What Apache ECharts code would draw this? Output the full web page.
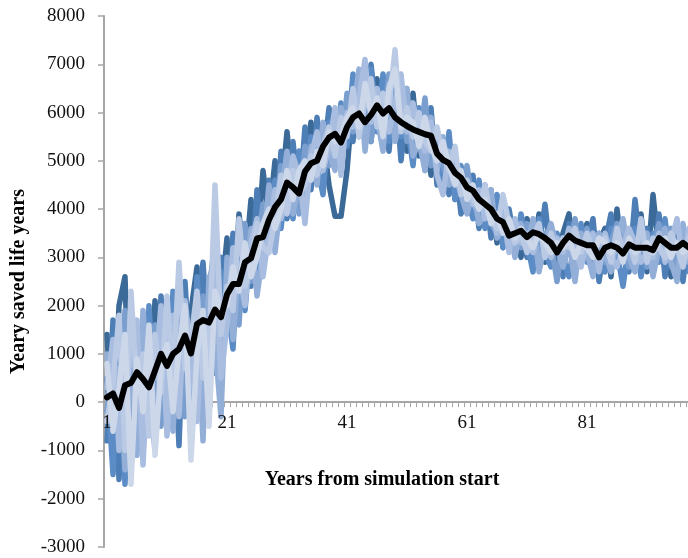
<!DOCTYPE html>
<html>
<head>
<meta charset="utf-8">
<script src="https://cdn.jsdelivr.net/npm/echarts@6/dist/echarts.min.js"></script>
<style>
  html, body { margin: 0; padding: 0; background: #fff; }
  #chart { width: 688px; height: 558px; }
</style>
</head>
<body>
<div id="chart"></div>
<script>
// Years 1..100 of the simulation
const years = [];
for (let y = 1; y <= 100; y++) years.push(String(y));

// Value axis range and step
const yMin = -3000;
const yMax = 8000;
const yStep = 1000;

// Individual simulation runs (yearly saved life years)
const run1 = [1400,-900,2000,2600,-1300,800,1500,-400,2100,300,
  1800,-500,2400,600,1900,2800,400,2300,3300,2100,
  3400,1700,3900,2800,4200,3100,4800,3800,5000,4300,
  5600,4400,5200,4900,5800,4700,5500,4500,3850,3850,
  4800,6300,5900,6900,5400,6700,5800,6500,5600,6200,
  5200,6400,5100,5800,4700,5600,4600,5300,4200,4700,
  4600,3900,4300,3700,4400,3300,3900,3200,3700,3000,
  3800,3100,3900,2900,3600,2800,3500,3900,2800,3400,
  3700,2700,3300,3600,2600,4000,2900,3500,3000,3900,
  2700,4300,3100,3500,2600,3700,3000,3300,2900,3600];
const run2 = [-800,1700,-1600,900,2000,-1000,1300,600,-700,2200,
  200,1600,-900,2500,300,1700,2900,1000,1400,3000,
  1500,3500,2200,3200,2400,4400,3000,4600,3500,5200,
  3800,5400,4100,5700,4400,5900,5000,6100,5300,5700,
  6100,5400,6600,5600,7000,5900,6300,5200,6600,5000,
  6200,5000,5900,4800,6100,4500,5200,4300,5000,3900,
  4300,4700,3600,4500,3400,4200,3200,4000,3300,3800,
  3000,3600,3200,4100,3000,3400,2600,3700,3200,2900,
  3300,3800,2500,3300,3900,2900,3400,2700,4200,3100,
  3600,2800,3900,2600,3400,3700,2500,3500,3800,3000];
const run3 = [500,-1500,1200,-1700,1600,300,-900,2000,-200,1200,
  -400,2300,400,1100,-700,2600,900,1800,600,2700,
  2000,1100,3600,1900,3400,2700,3900,3200,4600,3600,
  4700,3800,5200,4300,5500,4900,4300,5800,5000,6200,
  5300,6800,5500,6300,6900,5600,6800,5400,6400,5500,
  5800,4900,6100,5000,5400,5600,4400,5600,4200,4900,
  4200,3800,4600,3600,3900,4300,3200,3600,3100,3900,
  3300,2700,3800,3100,2800,3500,3000,2600,3400,3700,
  2900,3400,3000,2700,3600,3100,2400,3300,3600,2600,
  3300,3500,2900,3800,2800,3300,3600,2700,3400,2900];
const run4 = [-200,900,-400,1900,-1200,1500,-300,1000,1600,-500,
  1300,200,1900,-300,1500,700,2200,300,2500,1200,
  2600,2900,1600,3700,2500,3200,4100,3300,3800,4900,
  4100,5000,3900,5300,4600,5300,5700,4900,5900,5100,
  6400,5600,6200,5800,5400,6400,5700,6800,5500,6300,
  5400,6000,5300,6300,4900,5200,4900,4600,5100,4300,
  4900,4100,3900,4300,3700,3500,4100,3300,3500,3200,
  3700,3300,3000,3500,3300,2500,3400,3100,3800,2900,
  3600,3000,3500,2900,3300,3700,3200,2800,3000,3500,
  2800,3200,3700,3100,3600,2700,3400,3100,2600,3500];
const run5 = [1000,-300,700,-1400,1200,-1100,1900,200,-1000,1500,
  900,-600,1600,1200,-200,1900,-800,2600,1200,-300,
  3000,1300,2900,2300,3600,2200,3100,4500,3100,4200,
  5200,3900,4600,4000,5300,4500,5800,5200,4800,6100,
  5600,6000,6900,5200,6300,5900,5200,6600,5400,6000,
  6500,5100,5400,4800,5900,4800,5500,4500,4700,4300,
  3900,4400,3700,3900,4400,3400,3600,3600,3000,3700,
  3200,3800,2700,3300,3700,3200,2800,3300,2500,3500,
  3100,2600,3500,3100,2700,3400,3800,3000,2700,3300,
  3500,2600,3200,3600,2900,2500,3700,2900,3300,3700];
const run6 = [300,1300,-1000,600,800,1700,-1300,1200,500,2000,
  -700,1800,-300,2100,1000,-400,1700,1300,3000,500,
  1600,3200,2700,2000,3300,3800,2600,3500,4400,3800,
  4300,5100,4700,3700,5100,5600,4800,5300,6100,4700,
  6000,5700,6300,7100,5800,6500,6000,5600,6200,6800,
  5600,6200,5600,5200,5800,4700,4300,5200,4600,4500,
  4400,4100,4400,3800,4000,3500,3900,3100,3800,3300,
  3500,3100,3600,3200,3000,3400,3100,3600,3200,2800,
  3300,3500,2700,3500,3000,2800,3200,3600,3300,2900,
  3100,3000,3500,2900,3300,3800,2900,3600,3100,2800];
const run7 = [-400,400,1800,-1000,2300,200,1000,-700,1400,200,
  2200,400,2900,700,1300,2300,500,1000,4500,1400,
  2400,1900,3800,2400,2900,3700,3200,3100,3800,4700,
  3900,4800,4300,4500,5100,4700,5300,5700,5100,5900,
  5500,6500,5500,6200,6700,5700,6400,6100,7300,5600,
  6100,5500,6000,5400,5200,5700,5100,4800,5300,4300,
  4600,4200,4000,4500,3800,3600,4300,3700,3300,3500,
  3100,3400,3700,3000,3500,3100,3400,3200,3600,3100,
  3500,3100,3300,3400,2900,3600,3100,3300,2900,3800,
  2900,3400,3200,3000,3500,3200,2800,3400,3700,3100];
const run8 = [800,-600,300,1400,-1700,900,-200,1600,-1100,700,
  1200,-200,1100,2000,-1200,1000,1900,-500,2300,1900,
  2000,2800,2300,3300,2600,3000,3700,4000,3600,4000,
  4800,4200,4800,5000,4600,5200,4900,5600,5400,5500,
  5900,6100,5700,6600,6000,6300,5500,6500,6900,5700,
  5900,5800,5300,5900,5300,5000,5400,4900,4500,4800,
  4200,4500,4000,4200,3700,3900,3500,3800,3400,3600,
  3400,3200,3500,3300,3100,3300,3200,3400,3000,3300,
  3200,3000,3400,3300,3100,3300,2900,3400,3100,3200,
  3300,3100,3300,3400,3000,3300,3100,3200,3400,3000];

// Average over all runs
const meanRun = [100,180,-120,350,400,620,480,310,650,1000,
  750,1000,1100,1380,1010,1620,1700,1650,1920,1760,
  2230,2450,2450,2900,2980,3390,3420,3780,4040,4200,
  4550,4450,4320,4780,4950,5000,5300,5480,5560,5380,
  5700,5900,5980,5800,5950,6150,5980,6090,5900,5800,
  5720,5650,5600,5550,5520,5150,5020,4950,4750,4650,
  4450,4380,4200,4100,4000,3800,3730,3450,3500,3550,
  3420,3520,3480,3400,3300,3100,3300,3450,3350,3300,
  3250,3250,3000,3200,3250,3200,3080,3270,3200,3200,
  3200,3150,3400,3300,3200,3200,3300,3200,3250,3200];

const runs = [run1, run2, run3, run4, run5, run6, run7, run8];
const runColors = ['#3C6A98', '#4E7EB6', '#5B8CC5', '#7A9ECE', '#93AFD8', '#A8BDDF', '#BACAE5', '#CDD7EA'];

const serifFont = '"Liberation Serif", "DejaVu Serif", serif';

// Plot area
const W = 688, H = 558;
const gridTop = 16, gridBottom = 11;
const plotH = H - gridTop - gridBottom;
// Lift the category axis up to the zero line of the value axis
const zeroLift = (0 - yMin) / (yMax - yMin) * plotH;

const series = runs.map((r, i) => ({
  type: 'line',
  name: 'Run ' + (i + 1),
  data: r,
  xAxisIndex: 0,
  symbol: 'none',
  lineStyle: { color: runColors[i], width: 5.5, cap: 'round', join: 'round' },
  z: 2
}));
series.push({
  type: 'line',
  name: 'Mean',
  data: meanRun,
  xAxisIndex: 0,
  symbol: 'none',
  lineStyle: { color: '#000000', width: 6, cap: 'round', join: 'round' },
  z: 3
});

const xLabelStyle = { interval: 19, margin: 11, fontFamily: serifFont, fontSize: 19, color: '#111' };

const chart = echarts.init(document.getElementById('chart'), null, { renderer: 'canvas' });
chart.setOption({
  animation: false,
  backgroundColor: '#ffffff',
  title: {
    text: 'Years from simulation start',
    left: 377,
    top: 465,
    textAlign: 'center',
    textStyle: { fontFamily: serifFont, fontWeight: 'bold', fontSize: 20, color: '#000' }
  },
  grid: { left: 104, right: -16, top: gridTop, bottom: gridBottom, containLabel: false, outerBoundsMode: 'none' },
  xAxis: [
    {
      // axis line and ticks, underneath the runs
      type: 'category',
      data: years,
      boundaryGap: true,
      position: 'bottom',
      offset: -zeroLift,
      axisLine: { onZero: false, lineStyle: { color: '#A6A6A6', width: 2 } },
      axisTick: { show: true, interval: 0, length: 5, lineStyle: { color: '#A6A6A6', width: 1 } },
      axisLabel: { show: false },
      splitLine: { show: false }
    },
    {
      // year labels, drawn above the runs
      type: 'category',
      data: years,
      boundaryGap: true,
      position: 'bottom',
      offset: -zeroLift,
      z: 20,
      axisLine: { show: false, onZero: false },
      axisTick: { show: false },
      axisLabel: xLabelStyle,
      splitLine: { show: false }
    }
  ],
  yAxis: {
    type: 'value',
    min: yMin,
    max: yMax,
    interval: yStep,
    name: 'Yeary saved life years',
    nameLocation: 'middle',
    nameGap: 75,
    nameTextStyle: { fontFamily: serifFont, fontWeight: 'bold', fontSize: 20, color: '#000' },
    axisLine: { show: true, lineStyle: { color: '#A6A6A6', width: 2 } },
    axisTick: { show: true, length: 6, lineStyle: { color: '#A6A6A6', width: 1.5 } },
    axisLabel: { margin: 19, fontFamily: serifFont, fontSize: 19, color: '#111', formatter: v => String(v) },
    splitLine: { show: false }
  },
  series: series
});
</script>
</body>
</html>
